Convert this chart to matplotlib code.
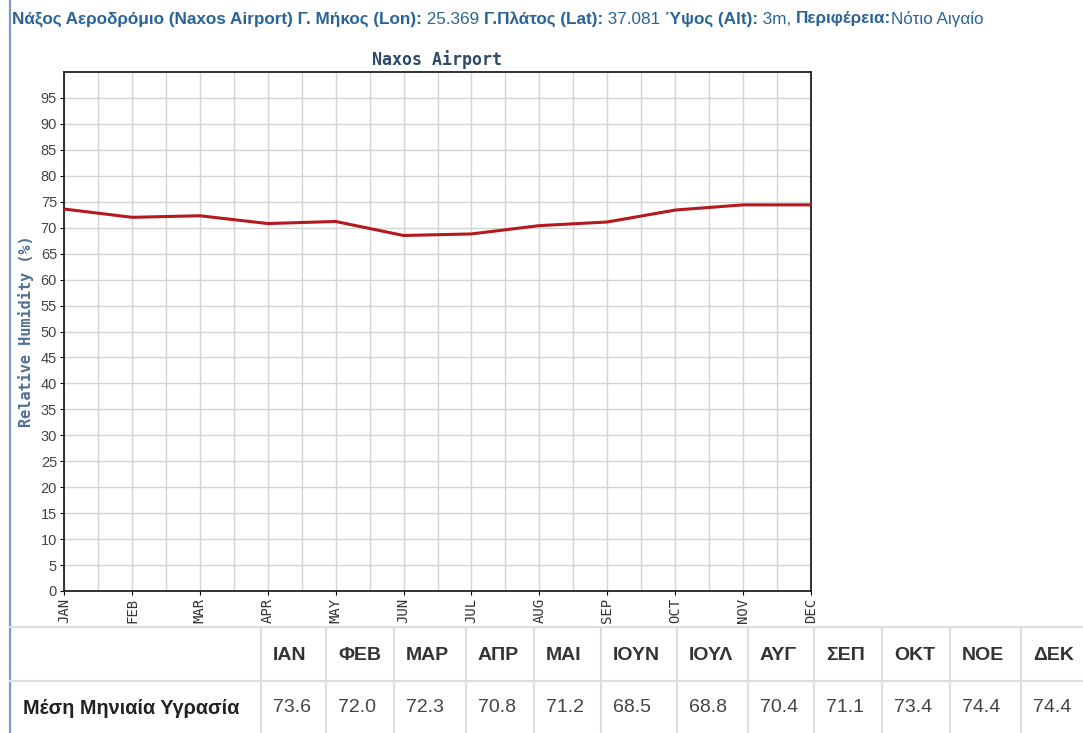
import matplotlib
matplotlib.use("Agg")
import matplotlib.pyplot as plt
from matplotlib.lines import Line2D
import numpy as np

# --- data ---
months_en = ["JAN", "FEB", "MAR", "APR", "MAY", "JUN", "JUL", "AUG", "SEP", "OCT", "NOV", "DEC"]
months_gr = ["ΙΑΝ", "ΦΕΒ", "ΜΑΡ", "ΑΠΡ", "ΜΑΙ", "ΙΟΥΝ", "ΙΟΥΛ", "ΑΥΓ", "ΣΕΠ", "ΟΚΤ", "ΝΟΕ", "ΔΕΚ"]
humidity = [73.6, 72.0, 72.3, 70.8, 71.2, 68.5, 68.8, 70.4, 71.1, 73.4, 74.4, 74.4]
row_label = "Μέση Μηνιαία Υγρασία"
header_parts = [
    ("Νάξος Αεροδρόμιο (Naxos Airport) Γ. Μήκος (Lon):", "bold"),
    (" 25.369 ", "normal"),
    ("Γ.Πλάτος (Lat):", "bold"),
    (" 37.081 ", "normal"),
    ("Ύψος (Alt):", "bold"),
    (" 3m, ", "normal"),
    ("Περιφέρεια:", "bold"),
    ("Νότιο Αιγαίο", "normal"),
]

W, H = 1083, 733
fig = plt.figure(figsize=(W / 100, H / 100), dpi=100)
plt.rcParams['font.family'] = ['Liberation Sans', 'DejaVu Sans']

def fx(px):
    return px / W

def fy(py):
    return 1 - py / H

# left border
fig.add_artist(Line2D([fx(10), fx(10)], [0, 1], color="#7a9cc4", lw=1.6))

# header line with mixed weights
renderer = fig.canvas.get_renderer()
x = fx(12)
for txt, wt in header_parts:
    t = fig.text(x, fy(19), txt, fontsize=12.3, fontweight=wt, color="#2a6496",
                 va="center", ha="left")
    bb = t.get_window_extent(renderer=renderer)
    x += bb.width / W

# --- chart ---
ax = fig.add_axes([fx(64), fy(591), fx(811) - fx(64), fy(72) - fy(591)])
ax.plot(range(12), humidity, color="#b5191e", lw=2.2, zorder=3)
ax.set_xlim(0, 11)
ax.set_ylim(0, 100)
ax.set_yticks(np.arange(0, 100, 5))
ax.set_xticks(range(12))
ax.set_xticks(np.arange(0.5, 11, 1), minor=True)
ax.set_xticklabels(months_en, rotation=90, fontsize=10, family="DejaVu Sans Mono", color="#333333")
ax.tick_params(axis="y", labelsize=10.5, labelcolor="#444444", length=3, pad=2)
ax.tick_params(axis="x", length=3, pad=2)
ax.tick_params(axis="x", which="minor", length=0)
ax.grid(True, which="both", color="#d4d4d4", lw=1)
ax.set_axisbelow(True)
for s in ax.spines.values():
    s.set_color("#222222")
    s.set_linewidth(1.3)
ax.set_title("Naxos Airport", fontsize=12, fontweight="bold", family="DejaVu Sans Mono",
             color="#2e4a6b", pad=5)
ax.set_ylabel("Relative Humidity (%)", fontsize=11, fontweight="bold", family="DejaVu Sans Mono",
              color="#4f6f95", labelpad=5)

# --- table ---
col_edges = [10, 261, 326, 394, 466, 534, 601, 677, 748, 814, 882, 950, 1021, 1083]
y_top, y_mid, y_bot = 627, 681, 733
gc = "#dddddd"
fig.add_artist(Line2D([fx(10), 1], [fy(y_top)] * 2, color=gc, lw=1.5))
fig.add_artist(Line2D([fx(10), 1], [fy(y_mid)] * 2, color=gc, lw=1.5))
for e in col_edges[1:-1]:
    fig.add_artist(Line2D([fx(e)] * 2, [fy(y_top), 0], color=gc, lw=1.5))

fig.text(fx(23), fy(708), row_label, fontsize=14.3, fontweight="bold", color="#222222",
         ha="left", va="center")
for i in range(12):
    left = col_edges[i + 1]
    fig.text(fx(left + 12), fy(655), months_gr[i], fontsize=14, fontweight="bold",
             color="#333333", ha="left", va="center")
    fig.text(fx(left + 12), fy(708), f"{humidity[i]:.1f}", fontsize=14,
             color="#444444", ha="left", va="center")

fig.savefig("out.png", dpi=100)
